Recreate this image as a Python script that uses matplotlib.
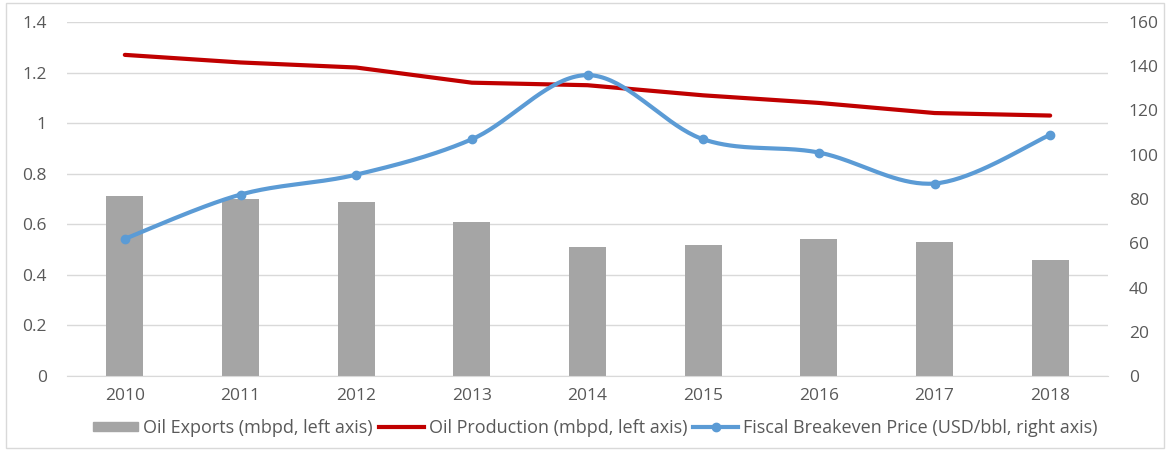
import numpy as np
import matplotlib
matplotlib.use("Agg")
import matplotlib.pyplot as plt
from matplotlib.patches import Rectangle
from matplotlib.lines import Line2D

years = ["2010", "2011", "2012", "2013", "2014", "2015", "2016", "2017", "2018"]
oil_exports = [0.71, 0.70, 0.69, 0.61, 0.51, 0.52, 0.54, 0.53, 0.46]
oil_production = [1.27, 1.24, 1.22, 1.16, 1.15, 1.11, 1.08, 1.04, 1.03]
breakeven = [62, 82, 91, 107, 136, 107, 101, 87, 109]

left_ticks = [0, 0.2, 0.4, 0.6, 0.8, 1, 1.2, 1.4]
left_labels = ["0", "0.2", "0.4", "0.6", "0.8", "1", "1.2", "1.4"]
right_ticks = [0, 20, 40, 60, 80, 100, 120, 140, 160]

TEXT = "#595959"
GRID = "#D9D9D9"
FS = 12.5
LFS = 13
plt.rcParams['font.family'] = ['Open Sans', 'DejaVu Sans']


def smooth(xs, ys, n=40):
    # Excel-style smoothed line (Catmull-Rom Bezier, tension 1/6)
    xs = np.asarray(xs, float); ys = np.asarray(ys, float)
    px, py = [], []
    m = len(xs)
    for i in range(m - 1):
        x0, y0 = (xs[i - 1], ys[i - 1]) if i > 0 else (xs[i], ys[i])
        x1, y1 = xs[i], ys[i]
        x2, y2 = xs[i + 1], ys[i + 1]
        x3, y3 = (xs[i + 2], ys[i + 2]) if i + 2 < m else (xs[i + 1], ys[i + 1])
        c1x, c1y = x1 + (x2 - x0) / 6, y1 + (y2 - y0) / 6
        c2x, c2y = x2 - (x3 - x1) / 6, y2 - (y3 - y1) / 6
        t = np.linspace(0, 1, n)
        bx = (1-t)**3*x1 + 3*(1-t)**2*t*c1x + 3*(1-t)*t**2*c2x + t**3*x2
        by = (1-t)**3*y1 + 3*(1-t)**2*t*c1y + 3*(1-t)*t**2*c2y + t**3*y2
        px.extend(bx); py.extend(by)
    return np.array(px), np.array(py)


fig = plt.figure(figsize=(11.72, 4.51), dpi=100)
fig.patches.append(Rectangle((6/1172, 3/451), 1158/1172, 445/451, transform=fig.transFigure,
                             fill=False, edgecolor="#D9D9D9", linewidth=1))
ax = fig.add_axes([67/1172, 1 - 376/451, (1108 - 67)/1172, (376 - 22)/451])
ax2 = ax.twinx()

x = np.arange(len(years))
ax.set_zorder(1)
ax2.set_zorder(2)
ax.patch.set_visible(False)
ax.bar(x, oil_exports, width=0.32, color="#A5A5A5", zorder=2)
ax.plot(x, oil_production, color="#C00000", linewidth=3, zorder=3, solid_capstyle='round')

sx, sy = smooth(x, breakeven)
ax2.plot(sx, sy, color="#5B9BD5", linewidth=3, solid_capstyle='round')
ax2.plot(x, breakeven, linestyle='none', marker='o', markersize=6, color="#5B9BD5")

ax.set_xlim(-0.5, len(years) - 0.5)
ax.set_ylim(0, 1.4)
ax2.set_ylim(0, 160)
ax.set_yticks(left_ticks)
ax.set_yticklabels(left_labels)
ax2.set_yticks(right_ticks)
ax.set_xticks(x)
ax.set_xticklabels(years)
ax.grid(axis='y', color=GRID, linewidth=1, zorder=0)
ax.set_axisbelow(True)
for a in (ax, ax2):
    for s in a.spines.values():
        s.set_visible(False)
ax.spines['bottom'].set_visible(True)
ax.spines['bottom'].set_color(GRID)
ax.tick_params(axis='both', length=0, labelsize=FS, labelcolor=TEXT)
ax.tick_params(axis='y', pad=14.5)
ax.tick_params(axis='x', pad=8.5)
ax2.tick_params(axis='y', length=0, labelsize=FS, labelcolor=TEXT, pad=15)

handles = [
    Rectangle((0, 0), 1, 1, color="#A5A5A5"),
    Line2D([0], [0], color="#C00000", linewidth=3),
    Line2D([0], [0], color="#5B9BD5", linewidth=3, marker='o', markersize=6),
]
labels = ["Oil Exports (mbpd, left axis)", "Oil Production (mbpd, left axis)",
          "Fiscal Breakeven Price (USD/bbl, right axis)"]
leg = fig.legend(handles, labels, loc='center', bbox_to_anchor=(0.508, 0.051), ncol=3,
                 frameon=False, fontsize=LFS, handlelength=2.5, handletextpad=0.25,
                 columnspacing=0.35, handleheight=0.42)
for t in leg.get_texts():
    t.set_color(TEXT)

fig.savefig("out.png", dpi=100)
